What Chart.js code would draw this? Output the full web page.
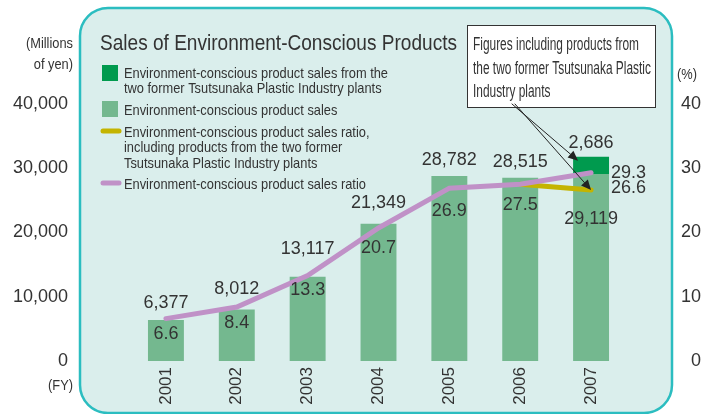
<!DOCTYPE html>
<html>
<head>
<meta charset="utf-8">
<script src="https://cdn.jsdelivr.net/npm/chart.js@4"></script>
<style>
  html, body { margin: 0; padding: 0; background: #fff; }
  canvas { display: block; }
</style>
</head>
<body>
<canvas id="c" width="711" height="414"></canvas>
<script>
const years = ['2001', '2002', '2003', '2004', '2005', '2006', '2007'];
const sales = [6377, 8012, 13117, 21349, 28782, 28515, 29119];
const salesFormerPlants = [null, null, null, null, null, null, 2686];
const ratio = [6.6, 8.4, 13.3, 20.7, 26.9, 27.5, 29.3];
const ratioInclPlants = [null, null, null, null, null, 27.5, 26.6];
const leftTicks = [0, 10000, 20000, 30000, 40000];
const rightTicks = [0, 10, 20, 30, 40];

const SANS = '"Liberation Sans", Arial, sans-serif';
const TXT = '#333';

const lightGreen = '#74b88f';
const darkGreen = '#009a4e';
const purple = '#c091c7';
const yellow = '#c4b400';

// nudges for the value labels (px), tuned by eye
const salesLabelDy = [-17, -20, -28, -21, -16, -16, 45];
const ratioLabelDy = [15, 16, 14, 20, 23, 21, 0];

const fmt = v => v.toLocaleString('en-US');

// condensed text: Liberation Sans squeezed horizontally so that a reference
// line comes out at the width it has in the original
function narrowScale(c, size, sample, width) {
  c.font = size + 'px ' + SANS;
  return width / c.measureText(sample).width;
}
function narrowText(c, txt, x, y, size, k, align) {
  c.save();
  c.font = size + 'px ' + SANS;
  c.textAlign = align || 'left';
  c.textBaseline = 'alphabetic';
  c.translate(x, y);
  c.scale(k, 1);
  c.fillText(txt, 0, 0);
  c.restore();
}

const panel = {
  id: 'panel',
  beforeDraw(chart) {
    const c = chart.ctx;
    c.save();
    c.beginPath();
    c.roundRect(80, 8, 592, 405, 28);
    c.fillStyle = '#daeeec';
    c.fill();
    c.lineWidth = 2.5;
    c.strokeStyle = '#2bbdc0';
    c.stroke();
    c.restore();
  }
};

const decorations = {
  id: 'decorations',
  afterDraw(chart) {
    const c = chart.ctx;
    const x = chart.scales.x, y = chart.scales.y, y1 = chart.scales.y1;
    c.save();
    c.fillStyle = TXT;

    const legendLine = 'Environment-conscious product sales from the';
    const kLeg = narrowScale(c, 15, legendLine, 264);
    const titleTxt = 'Sales of Environment-Conscious Products';
    const kTitle = narrowScale(c, 22, titleTxt, 357);
    const calloutLine = 'Figures including products from';
    const kCall = narrowScale(c, 17.5, calloutLine, 166);

    // unit captions
    narrowText(c, '(Millions', 73, 48, 15, kLeg, 'right');
    narrowText(c, 'of yen)', 73, 69, 15, kLeg, 'right');
    narrowText(c, '(FY)', 73, 390, 15, kLeg, 'right');
    narrowText(c, '(%)', 677, 79, 15, kLeg, 'left');

    // title
    narrowText(c, titleTxt, 100, 50, 22, kTitle);

    // legend
    c.fillStyle = darkGreen; c.fillRect(102, 65, 16, 16);
    c.fillStyle = lightGreen; c.fillRect(102, 101, 16, 16);
    c.lineCap = 'round'; c.lineWidth = 5;
    c.strokeStyle = yellow; c.beginPath(); c.moveTo(103, 131); c.lineTo(119, 131); c.stroke();
    c.strokeStyle = purple; c.beginPath(); c.moveTo(103, 183); c.lineTo(119, 183); c.stroke();
    c.fillStyle = TXT;
    const lx = 124;
    narrowText(c, legendLine, lx, 77.5, 15, kLeg);
    narrowText(c, 'two former Tsutsunaka Plastic Industry plants', lx, 93, 15, kLeg);
    narrowText(c, 'Environment-conscious product sales', lx, 114.5, 15, kLeg);
    narrowText(c, 'Environment-conscious product sales ratio,', lx, 136.5, 15, kLeg);
    narrowText(c, 'including products from the two former', lx, 152, 15, kLeg);
    narrowText(c, 'Tsutsunaka Plastic Industry plants', lx, 167.5, 15, kLeg);
    narrowText(c, 'Environment-conscious product sales ratio', lx, 188.5, 15, kLeg);

    // value labels
    c.font = '18px ' + SANS;
    c.textBaseline = 'middle';
    c.textAlign = 'center';
    sales.forEach((v, i) => {
      const px = x.getPixelForValue(i);
      c.fillText(fmt(v), px, y.getPixelForValue(v) + salesLabelDy[i]);
      if (salesFormerPlants[i]) {
        const tot = v + salesFormerPlants[i];
        c.fillText(fmt(salesFormerPlants[i]), px, y.getPixelForValue(tot) - 14);
      }
    });
    ratio.forEach((v, i) => {
      const px = x.getPixelForValue(i);
      if (i === 6) {
        c.textAlign = 'left';
        c.fillText(v.toFixed(1), px + 20, y1.getPixelForValue(v));
        c.fillText(ratioInclPlants[i].toFixed(1), px + 20, y1.getPixelForValue(ratioInclPlants[i]) - 2);
        c.textAlign = 'center';
      } else {
        c.fillText(v.toFixed(1), px, y1.getPixelForValue(v) + ratioLabelDy[i]);
      }
    });

    // callout
    c.fillStyle = '#fff';
    c.fillRect(467, 25, 189, 83);
    c.strokeStyle = '#333'; c.lineWidth = 1;
    c.strokeRect(467.5, 25.5, 188, 82);
    c.fillStyle = TXT;
    narrowText(c, calloutLine, 473, 50, 17.5, kCall);
    narrowText(c, 'the two former Tsutsunaka Plastic', 473, 73.5, 17.5, kCall);
    narrowText(c, 'Industry plants', 473, 97, 17.5, kCall);

    const i7 = 6;
    const bx = x.getPixelForValue(i7);
    const t1 = [bx - 13, y.getPixelForValue(sales[i7] + salesFormerPlants[i7]) + 4];
    const t2 = [bx, y1.getPixelForValue(ratioInclPlants[i7])];
    arrow(c, 512, 104, t1[0], t1[1]);
    arrow(c, 515, 104, t2[0], t2[1]);
    c.restore();
  }
};

function arrow(c, x0, y0, x1, y1) {
  const a = Math.atan2(y1 - y0, x1 - x0);
  const L = 10, W = 4.5;
  c.strokeStyle = '#222'; c.fillStyle = '#222'; c.lineWidth = 1;
  c.beginPath(); c.moveTo(x0, y0);
  c.lineTo(x1 - L * Math.cos(a), y1 - L * Math.sin(a)); c.stroke();
  c.beginPath();
  c.moveTo(x1, y1);
  c.lineTo(x1 - L * Math.cos(a) + W * Math.sin(a), y1 - L * Math.sin(a) - W * Math.cos(a));
  c.lineTo(x1 - L * Math.cos(a) - W * Math.sin(a), y1 - L * Math.sin(a) + W * Math.cos(a));
  c.closePath(); c.fill();
}

// fixed axis sizes; drop the label overhang padding so the plot box stays put
const fixWidth = w => s => { s.width = w; s.paddingTop = 0; s.paddingBottom = 0; };

new Chart(document.getElementById('c'), {
  type: 'bar',
  data: {
    labels: years,
    datasets: [
      { type: 'line', label: 'ratio', data: ratio, yAxisID: 'y1', order: 0,
        borderColor: purple, borderWidth: 5, pointRadius: 0, tension: 0, borderCapStyle: 'round' },
      { type: 'line', label: 'ratio incl', data: ratioInclPlants, yAxisID: 'y1', order: 1,
        borderColor: yellow, borderWidth: 5, pointRadius: 0, tension: 0, borderCapStyle: 'round' },
      { label: 'sales', data: sales, backgroundColor: lightGreen, stack: 's', order: 2,
        barPercentage: 0.507, categoryPercentage: 1 },
      { label: 'former plants', data: salesFormerPlants, backgroundColor: darkGreen, stack: 's', order: 3,
        barPercentage: 0.507, categoryPercentage: 1 }
    ]
  },
  options: {
    responsive: false,
    animation: false,
    layout: { padding: { top: 104, left: 0, right: 10, bottom: 0 } },
    plugins: { legend: { display: false }, tooltip: { enabled: false } },
    scales: {
      x: {
        stacked: true,
        grid: { display: false, drawTicks: false },
        border: { display: false },
        ticks: { maxRotation: 90, minRotation: 90, padding: 6, color: TXT, font: { family: SANS, size: 17 } },
        afterFit: s => { s.height = 53; s.paddingLeft = 0; s.paddingRight = 0; }
      },
      y: {
        stacked: true,
        position: 'left',
        min: 0, max: 40000,
        afterBuildTicks: s => { s.ticks = leftTicks.map(v => ({ value: v })); },
        grid: { display: false, drawTicks: false },
        border: { display: false },
        ticks: { padding: 62.5, color: TXT, font: { family: SANS, size: 18 }, callback: v => fmt(v) },
        afterFit: fixWidth(130.5)
      },
      y1: {
        position: 'right',
        min: 0, max: 40,
        afterBuildTicks: s => { s.ticks = rightTicks.map(v => ({ value: v })); },
        grid: { display: false, drawTicks: false },
        border: { display: false },
        ticks: { padding: 4, crossAlign: 'far', color: TXT, font: { family: SANS, size: 18 } },
        afterFit: fixWidth(74.5)
      }
    }
  },
  plugins: [panel, decorations]
});
</script>
</body>
</html>
